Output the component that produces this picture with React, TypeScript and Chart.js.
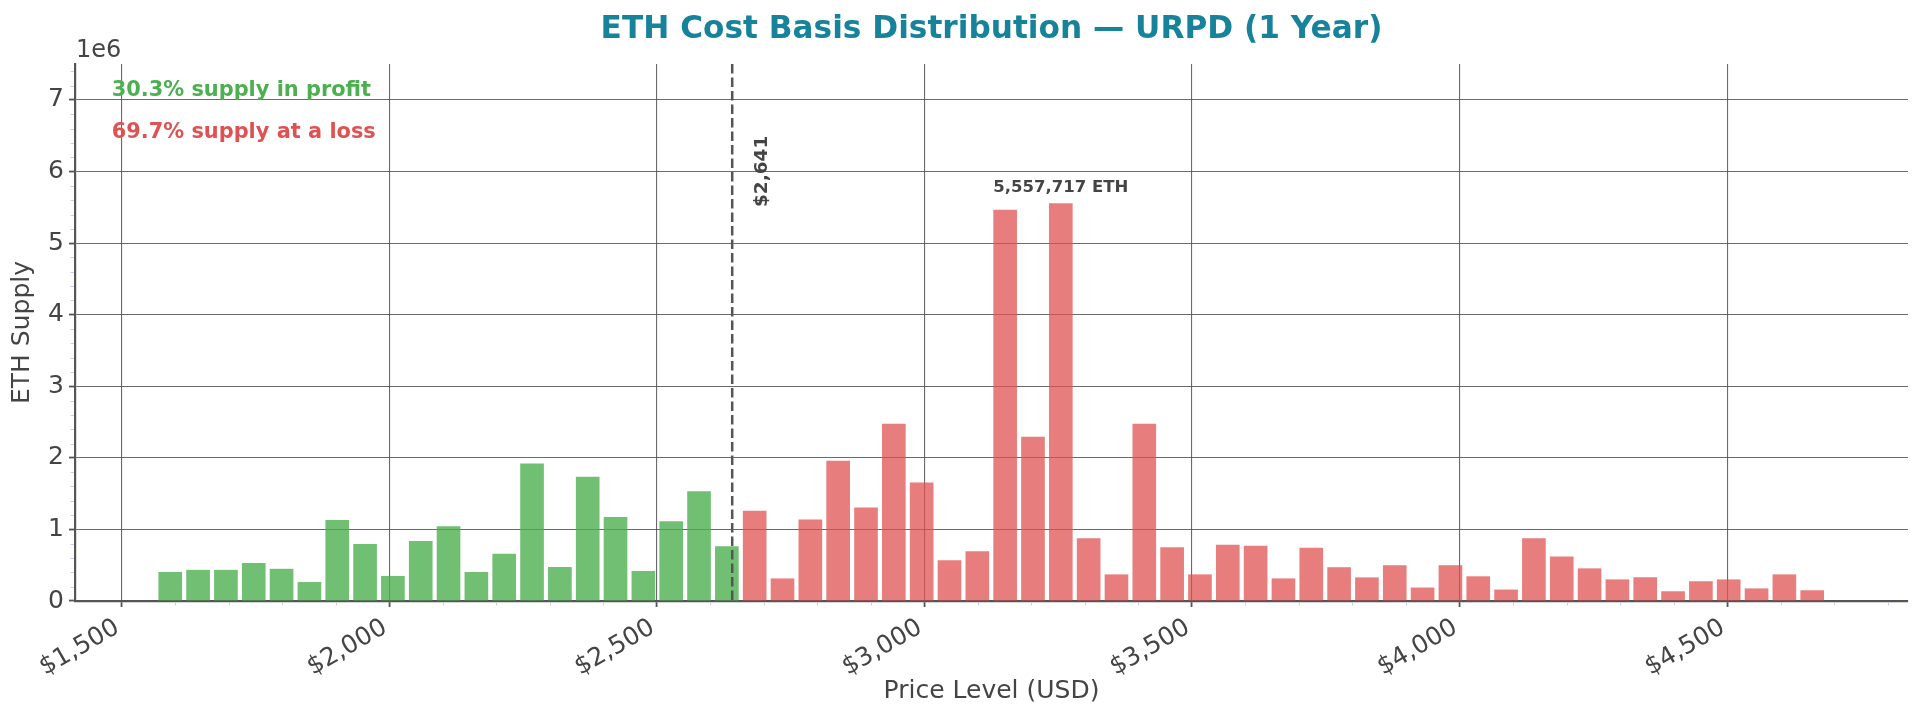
import { useEffect, useRef } from 'react';
import { Chart, registerables } from 'chart.js';

Chart.register(...registerables);

// ---- data ----
const PRICE_LEVELS = [
  1591, 1643, 1695, 1747, 1799, 1851, 1903, 1955, 2007, 2059,
  2111, 2163, 2215, 2267, 2319, 2371, 2423, 2475, 2527, 2579,
  2631, 2683, 2735, 2787, 2839, 2891, 2943, 2995, 3047, 3099,
  3151, 3203, 3255, 3307, 3359, 3411, 3463, 3515, 3567, 3619,
  3671, 3723, 3775, 3827, 3879, 3931, 3983, 4035, 4087, 4139,
  4191, 4243, 4295, 4347, 4399, 4451, 4503, 4555, 4607, 4659,
];

const ETH_SUPPLY = [
  405000, 435000, 435000, 530000, 450000, 265000, 1130000, 795000, 350000, 840000,
  1045000, 405000, 660000, 1920000, 475000, 1735000, 1175000, 420000, 1115000, 1535000,
  765000, 1260000, 315000, 1140000, 1960000, 1305000, 2475000, 1655000, 568000, 695000,
  5465000, 2295000, 5557717, 875000, 372000, 2475000, 752000, 372000, 786000, 771000,
  316000, 743000, 472000, 330000, 500000, 188000, 500000, 345000, 160000, 878000,
  622000, 456000, 302000, 332000, 136000, 276000, 302000, 176000, 372000, 150000,
];

const CURRENT_PRICE = 2641;
const PROFIT_PCT = 30.3;
const LOSS_PCT = 69.7;

const X_TICKS = [1500, 2000, 2500, 3000, 3500, 4000, 4500];
const Y_TICKS = [0, 1000000, 2000000, 3000000, 4000000, 5000000, 6000000, 7000000];
const X_MIN = 1413;
const X_MAX = 4838;

const TITLE = 'ETH Cost Basis Distribution \u2014 URPD (1 Year)';

const GREEN_BAR = 'rgba(76,175,80,0.8)';
const RED_BAR = 'rgba(224,82,82,0.75)';
const GREEN_TEXT = '#4caf50';
const RED_TEXT = '#e05252';
const FONT = '"DejaVu Sans", sans-serif';

const fmtUsd = (v: number) => '$' + Math.round(v).toLocaleString('en-US');

export default function App() {
  const ref = useRef<HTMLCanvasElement | null>(null);

  useEffect(() => {
    document.body.style.margin = '0';
    const canvas = ref.current;
    if (!canvas) return;

    const peak = Math.max(...ETH_SUPPLY);
    const peakIdx = ETH_SUPPLY.indexOf(peak);
    const yMax = peak * 1.35;

    const overlay = {
      id: 'overlay',
      afterDraw(chart: any) {
        const { ctx, chartArea } = chart;
        const x = chart.scales.x;
        const y = chart.scales.y;
        ctx.save();

        // minor ticks
        ctx.strokeStyle = '#c8cde0';
        ctx.lineWidth = 1;
        ctx.beginPath();
        for (let v = Math.ceil(x.min / 100) * 100; v <= x.max; v += 100) {
          if (v % 500 === 0) continue;
          const px = Math.round(x.getPixelForValue(v)) + 0.5;
          ctx.moveTo(px, chartArea.bottom + 1);
          ctx.lineTo(px, chartArea.bottom + 4.5);
        }
        for (let i = 1; i * 200000 <= y.max; i++) {
          if (i % 5 === 0) continue;
          const py = Math.round(y.getPixelForValue(i * 200000)) + 0.5;
          ctx.moveTo(chartArea.left - 1, py);
          ctx.lineTo(chartArea.left - 4.5, py);
        }
        ctx.stroke();

        // current price line
        const cx = x.getPixelForValue(CURRENT_PRICE);
        ctx.setLineDash([9.5, 4]);
        ctx.strokeStyle = '#555555';
        ctx.lineWidth = 2.5;
        ctx.beginPath();
        ctx.moveTo(cx, chartArea.top);
        ctx.lineTo(cx, chartArea.bottom);
        ctx.stroke();
        ctx.setLineDash([]);

        // current price label
        ctx.save();
        ctx.translate(cx + 30, y.getPixelForValue(yMax * 0.8));
        ctx.rotate(-Math.PI / 2);
        ctx.font = `bold 18.5px ${FONT}`;
        ctx.fillStyle = '#444444';
        ctx.textAlign = 'center';
        ctx.textBaseline = 'middle';
        ctx.fillText(fmtUsd(CURRENT_PRICE), 0, 0);
        ctx.restore();

        // peak annotation
        ctx.font = `bold 16.5px ${FONT}`;
        ctx.fillStyle = '#444444';
        ctx.textAlign = 'center';
        ctx.textBaseline = 'alphabetic';
        ctx.fillText(
          `${peak.toLocaleString('en-US')} ETH`,
          x.getPixelForValue(PRICE_LEVELS[peakIdx]),
          y.getPixelForValue(peak * 1.02) - 3
        );

        // profit / loss texts
        const tx = chartArea.left + (chartArea.right - chartArea.left) * 0.02;
        ctx.textAlign = 'left';
        ctx.font = `bold 20.9px ${FONT}`;
        ctx.fillStyle = GREEN_TEXT;
        ctx.fillText(`${PROFIT_PCT.toFixed(1)}% supply in profit`, tx, chartArea.top + 32);
        ctx.fillStyle = RED_TEXT;
        ctx.fillText(`${LOSS_PCT.toFixed(1)}% supply at a loss`, tx, chartArea.top + 74);

        // offset text
        ctx.font = `24px ${FONT}`;
        ctx.fillStyle = '#444444';
        ctx.fillText('1e6', chartArea.left + 1, chartArea.top - 7);

        // title
        ctx.font = `bold 31.2px ${FONT}`;
        ctx.fillStyle = '#17839b';
        ctx.textAlign = 'center';
        ctx.fillText(TITLE, (chartArea.left + chartArea.right) / 2, 38);

        ctx.restore();
      },
    };

    const gridCommon = {
      offset: false,
      color: 'rgba(80,80,80,0.85)',
      lineWidth: 1.1,
      tickLength: 6,
      tickColor: '#555555',
      tickWidth: 1.8,
    };

    const chart = new Chart(canvas, {
      type: 'bar',
      data: {
        datasets: [
          {
            data: PRICE_LEVELS.map((p, i) => ({ x: p, y: ETH_SUPPLY[i] })),
            backgroundColor: PRICE_LEVELS.map((p) => (p < CURRENT_PRICE ? GREEN_BAR : RED_BAR)),
            borderWidth: 0,
            barPercentage: 0.85,
            categoryPercentage: 1.0,
          },
        ],
      },
      options: {
        animation: false,
        responsive: false,
        devicePixelRatio: 1,
        layout: { padding: { top: 64, right: 15, left: 0, bottom: 0 } },
        plugins: {
          legend: { display: false },
          title: { display: false },
          tooltip: { enabled: false },
        },
        scales: {
          x: {
            type: 'linear',
            min: X_MIN,
            max: X_MAX,
            offset: false,
            afterBuildTicks: (s: any) => {
              s.ticks = X_TICKS.map((v) => ({ value: v }));
            },
            afterFit: (s: any) => {
              s.height = 118;
            },
            ticks: {
              autoSkip: false,
              minRotation: 30,
              maxRotation: 30,
              padding: 6,
              labelOffset: -4,
              color: '#444444',
              font: { family: FONT, size: 25 },
              callback: (v: any) => fmtUsd(Number(v)),
            },
            grid: gridCommon,
            border: { display: true, color: '#555555', width: 2.2 },
            title: {
              display: true,
              text: 'Price Level (USD)',
              color: '#444444',
              font: { family: FONT, size: 25 },
              padding: { top: 0, bottom: 13 },
            },
          },
          y: {
            type: 'linear',
            min: 0,
            max: yMax,
            afterBuildTicks: (s: any) => {
              s.ticks = Y_TICKS.map((v) => ({ value: v }));
            },
            afterFit: (s: any) => {
              s.width = 75;
            },
            ticks: {
              padding: 5,
              color: '#444444',
              font: { family: FONT, size: 25 },
              callback: (v: any) => String(Number(v) / 1e6),
            },
            grid: gridCommon,
            border: { display: true, color: '#555555', width: 2.2 },
            title: {
              display: true,
              text: 'ETH Supply',
              color: '#444444',
              font: { family: FONT, size: 25 },
              padding: { top: 7.5, bottom: 0 },
            },
          },
        },
      },
      plugins: [overlay],
    });

    return () => chart.destroy();
  }, []);

  return (
    <div style={{ position: 'absolute', left: 0, top: 0, width: 1923, height: 719, background: '#fff' }}>
      <canvas ref={ref} width={1923} height={719} style={{ display: 'block', width: 1923, height: 719 }} />
    </div>
  );
}
